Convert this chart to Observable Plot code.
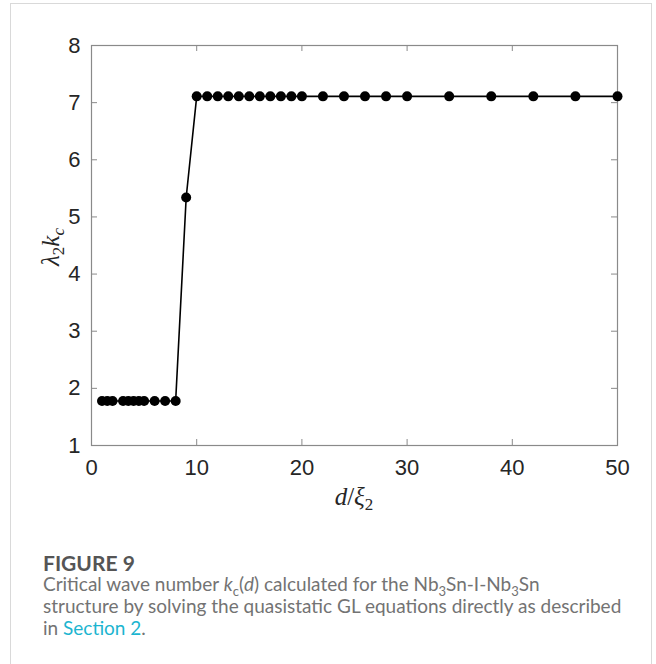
<!DOCTYPE html>
<html>
<head>
<meta charset="utf-8">
<script src="https://cdn.jsdelivr.net/npm/d3@7"></script>
<script src="https://cdn.jsdelivr.net/npm/@observablehq/plot@0.6"></script>
<style>
  body { margin: 0; background: #fff; }
  #card { position: absolute; left: 10px; top: 3px; width: 642px; height: 720px;
          border: 1px solid #d9d9d9; box-sizing: border-box; }
  #chart { position: absolute; left: 0; top: 0; }
  #caption { position: absolute; left: 43px; top: 553px; width: 610px; white-space: nowrap;
             font-family: Lato, "Open Sans", sans-serif; color: #737373; font-size: 19px; line-height: 22px; }
  #caption .fig { color: #555; font-size: 21px; font-weight: 700; line-height: 20px; }
  #caption sub { font-size: 13px; line-height: 0; }
  #caption a { color: #1cb5d0; text-decoration: none; }
</style>
</head>
<body>
<div id="card"></div>
<div id="chart"></div>
<div id="caption">
  <div class="fig">FIGURE 9</div>
  <div>Critical wave number <i>k</i><sub>c</sub>(<i>d</i>) calculated for the Nb<sub>3</sub>Sn-I-Nb<sub>3</sub>Sn<br>structure by solving the quasistatic GL equations directly as described<br>in <a>Section 2</a>.</div>
</div>
<script>
// Barrier thickness d/ξ2 and critical wave number λ2·kc
const dOverXi = [1, 1.5, 2, 3, 3.5, 4, 4.5, 5, 6, 7, 8,
                 9,
                 10, 11, 12, 13, 14, 15, 16, 17, 18, 19, 20,
                 22, 24, 26, 28, 30, 34, 38, 42, 46, 50];
const lambdaKc = [1.78, 1.78, 1.78, 1.78, 1.78, 1.78, 1.78, 1.78, 1.78, 1.78, 1.78,
                  5.34,
                  7.11, 7.11, 7.11, 7.11, 7.11, 7.11, 7.11, 7.11, 7.11, 7.11, 7.11,
                  7.11, 7.11, 7.11, 7.11, 7.11, 7.11, 7.11, 7.11, 7.11, 7.11];
const xTicks = [0, 10, 20, 30, 40, 50];
const yTicks = [1, 2, 3, 4, 5, 6, 7, 8];

const data = dOverXi.map((d, i) => ({d, k: lambdaKc[i]}));

const W = 656, H = 520;
const mL = 91, mR = 39, mT = 45, mB = 75;
const plotW = W - mL - mR, plotH = H - mT - mB;
const tick = 6;
const axisColor = "#8a8a8a";

const chart = Plot.plot({
  width: W, height: H,
  marginLeft: mL, marginRight: mR, marginTop: mT, marginBottom: mB,
  style: {fontFamily: "Liberation Sans, Arial, sans-serif", color: "#262626", background: "transparent"},
  x: {domain: [0, 50], label: null},
  y: {domain: [1, 8], label: null},
  marks: [
    // inward ticks on all four sides of the box
    Plot.ruleX(xTicks, {y1: 8, y2: 1, insetTop: plotH - tick, stroke: axisColor}),
    Plot.ruleX(xTicks, {y1: 8, y2: 1, insetBottom: plotH - tick, stroke: axisColor}),
    Plot.ruleY(yTicks, {x1: 0, x2: 50, insetRight: plotW - tick, stroke: axisColor}),
    Plot.ruleY(yTicks, {x1: 0, x2: 50, insetLeft: plotW - tick, stroke: axisColor}),
    Plot.frame({stroke: axisColor, strokeWidth: 1.2}),
    Plot.axisX(xTicks, {tickSize: 0, tickPadding: 14, fontSize: 22, label: null, fill: "#262626", tickFormat: d => String(d)}),
    Plot.axisY(yTicks, {tickSize: 0, tickPadding: 11, fontSize: 22, label: null, fill: "#262626", tickFormat: d => String(d)}),
    Plot.line(data, {x: "d", y: "k", stroke: "#000", strokeWidth: 1.6}),
    Plot.dot(data, {x: "d", y: "k", r: 5, fill: "#000", stroke: "none"})
  ]
});

const svg = d3.select(chart);

// axis titles with italic symbols and subscripts
const yl = svg.append("text")
  .attr("transform", `translate(59,247) rotate(-90)`)
  .attr("text-anchor", "middle")
  .attr("font-family", "Liberation Serif, DejaVu Serif, serif")
  .attr("font-size", 25)
  .attr("fill", "#262626");
yl.append("tspan").attr("font-style", "italic").text("λ");
yl.append("tspan").attr("font-size", 17).attr("dy", 5).text("2");
yl.append("tspan").attr("font-style", "italic").attr("dy", -5).text("k");
yl.append("tspan").attr("font-style", "italic").attr("font-size", 17).attr("dy", 5).text("c");

const xl = svg.append("text")
  .attr("x", mL + plotW / 2)
  .attr("y", 505)
  .attr("text-anchor", "middle")
  .attr("font-family", "Liberation Serif, DejaVu Serif, serif")
  .attr("font-size", 25)
  .attr("fill", "#262626");
xl.append("tspan").attr("font-style", "italic").text("d");
xl.append("tspan").text("/");
xl.append("tspan").attr("font-style", "italic").text("ξ");
xl.append("tspan").attr("font-size", 17).attr("dy", 5).text("2");

document.getElementById("chart").appendChild(chart);
</script>
</body>
</html>
